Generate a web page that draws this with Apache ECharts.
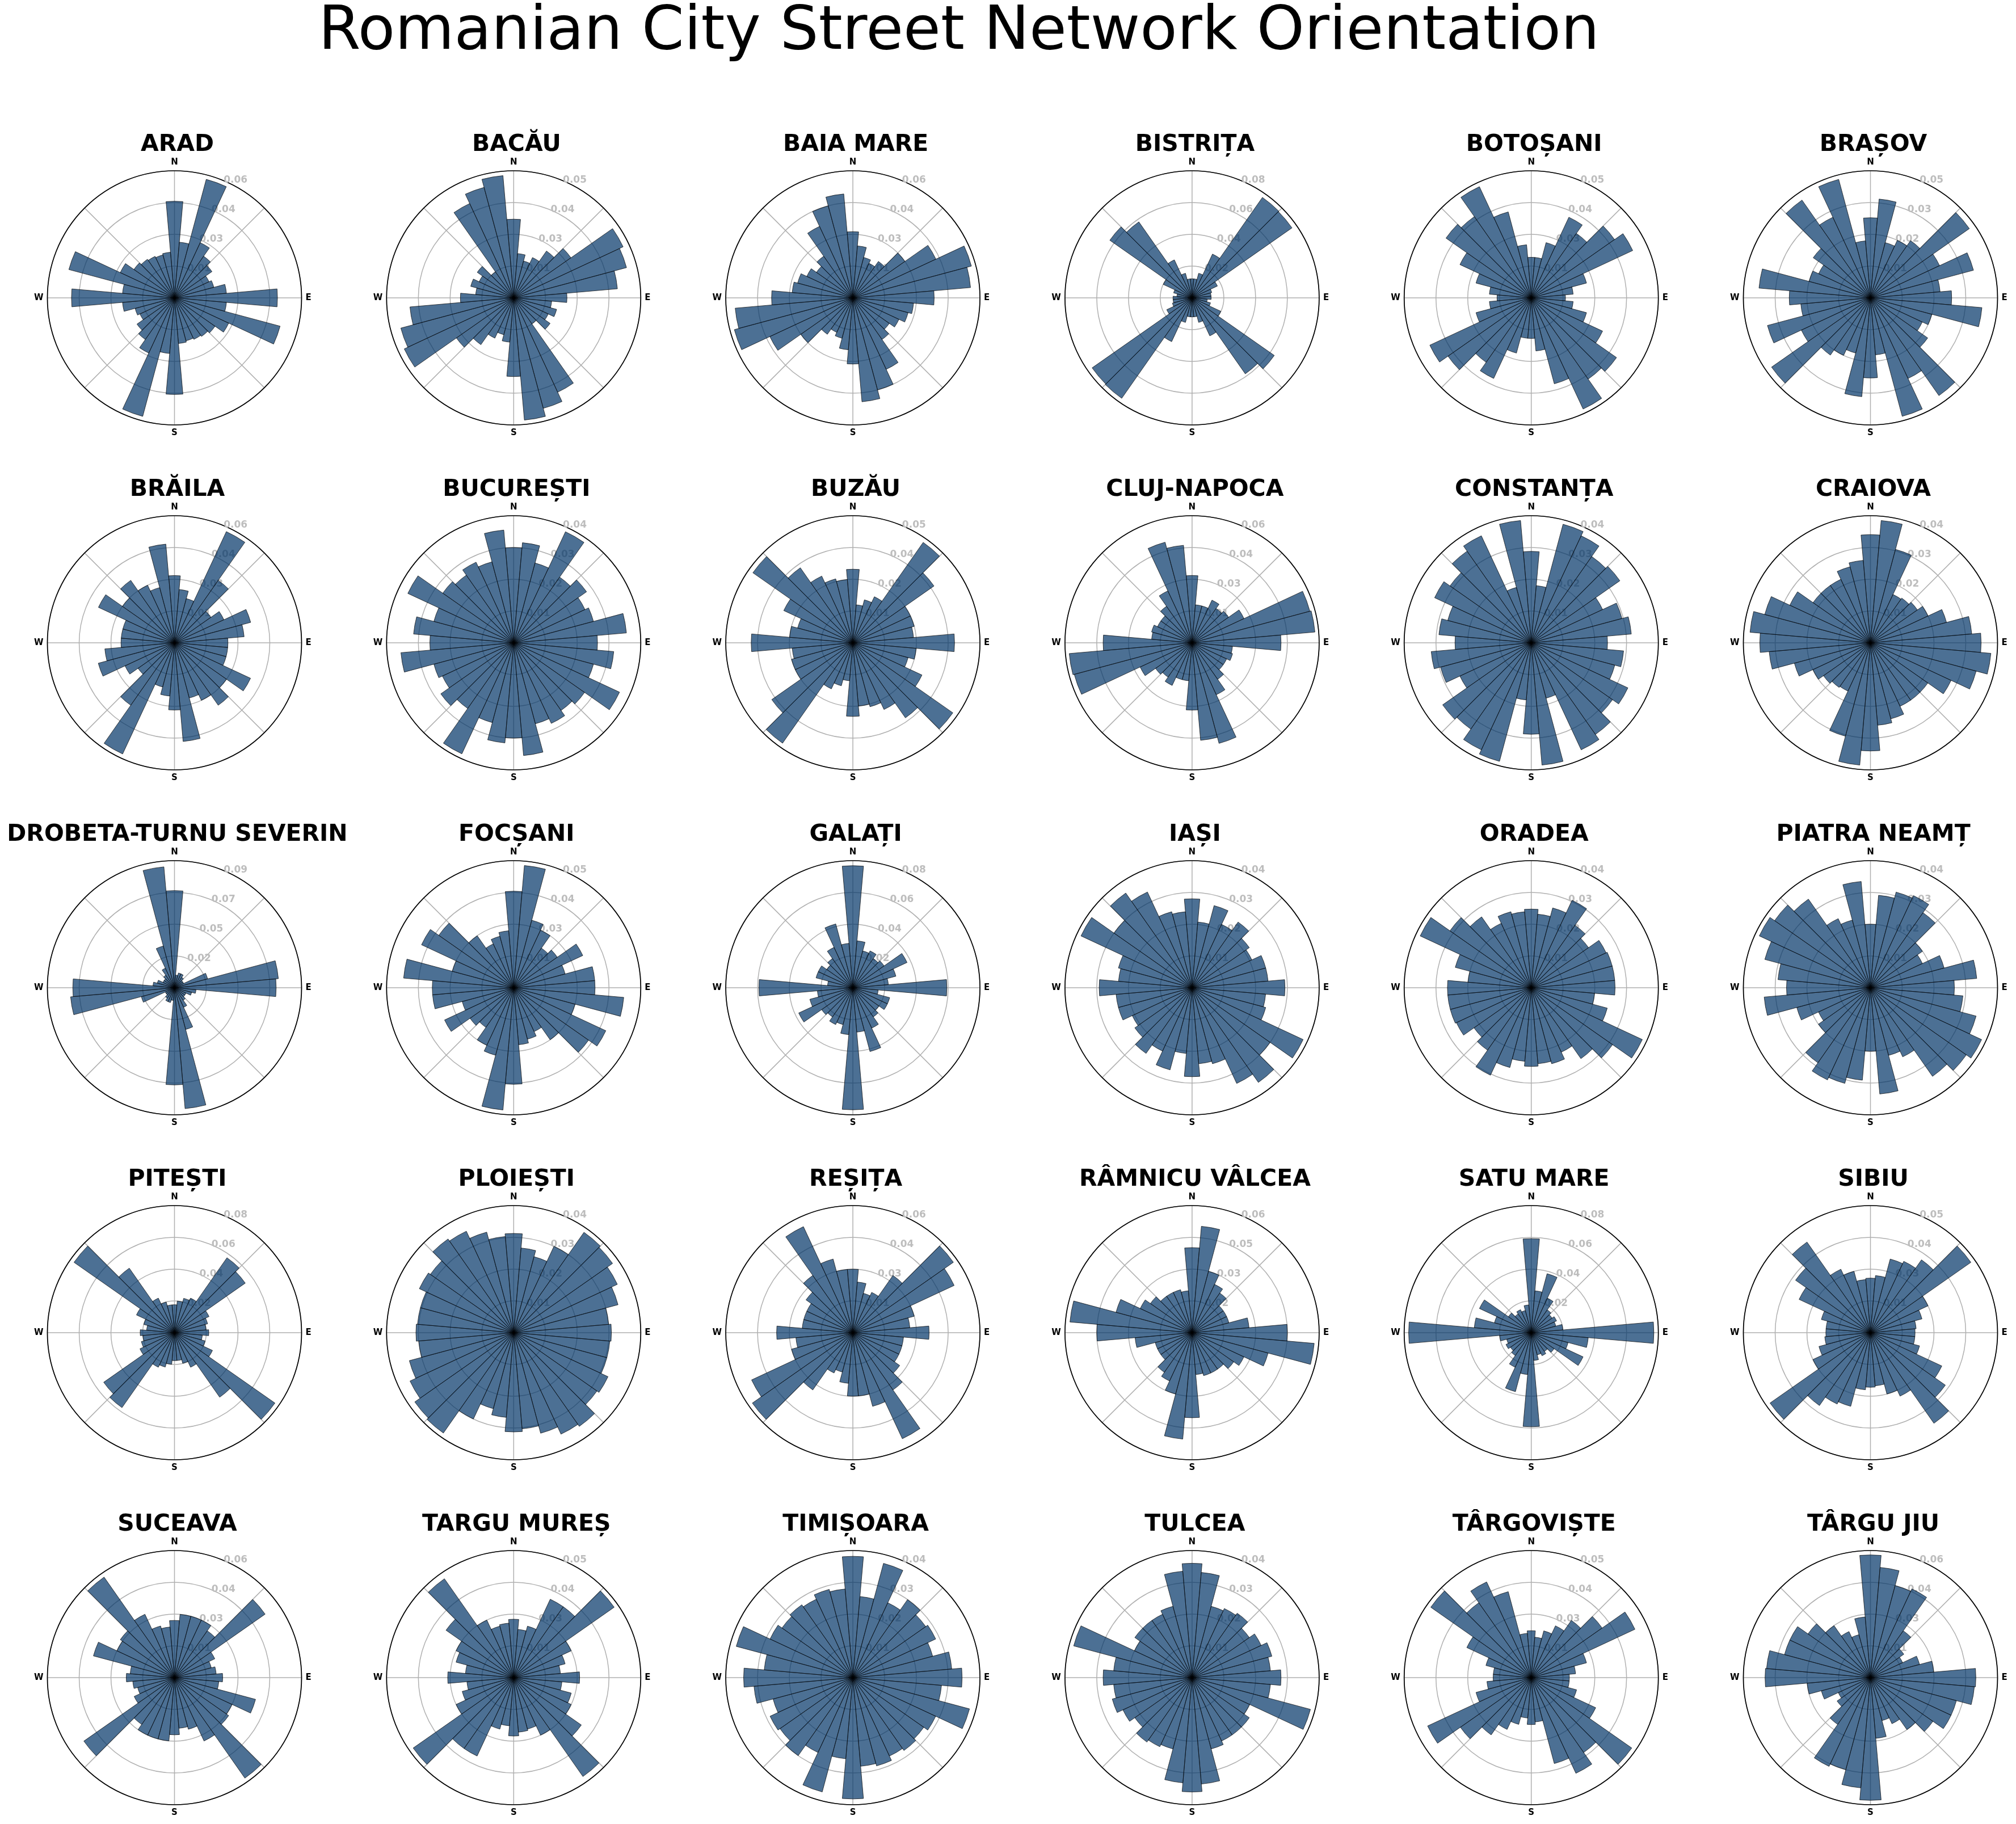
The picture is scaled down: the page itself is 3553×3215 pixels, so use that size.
<!DOCTYPE html>
<html><head><meta charset="utf-8">
<script src="https://cdn.jsdelivr.net/npm/echarts/dist/echarts.min.js"></script>
<style>html,body{margin:0;padding:0;background:#fff}#c{width:3553px;height:3215px}</style>
</head><body><div id="c"></div>
<script>
const BEARINGS = ['0','10','20','30','40','50','60','70','80','90','100','110','120','130','140','150','160','170',
  '180','190','200','210','220','230','240','250','260','270','280','290','300','310','320','330','340','350'];
const COMPASS = {0:'N', 90:'E', 180:'S', 270:'W'};
const CITIES = ['ARAD','BACĂU','BAIA MARE','BISTRIȚA','BOTOȘANI','BRAȘOV',
  'BRĂILA','BUCUREȘTI','BUZĂU','CLUJ-NAPOCA','CONSTANȚA','CRAIOVA',
  'DROBETA-TURNU SEVERIN','FOCȘANI','GALAȚI','IAȘI','ORADEA','PIATRA NEAMȚ',
  'PITEȘTI','PLOIEȘTI','REȘIȚA','RÂMNICU VÂLCEA','SATU MARE','SIBIU',
  'SUCEAVA','TARGU MUREȘ','TIMIȘOARA','TULCEA','TÂRGOVIȘTE','TÂRGU JIU'];
const RMAX = [0.058,0.052,0.058,0.080,0.052,0.046,
  0.058,0.042,0.048,0.057,0.041,0.041,
  0.093,0.052,0.081,0.042,0.042,0.043,
  0.080,0.042,0.058,0.062,0.082,0.051,
  0.058,0.052,0.042,0.042,0.052,0.058];
const TICK_LABELS = [
  ['0.01','0.03','0.04','0.06'],['0.01','0.03','0.04','0.05'],['0.01','0.03','0.04','0.06'],['0.02','0.04','0.06','0.08'],['0.01','0.03','0.04','0.05'],['0.01','0.02','0.03','0.05'],
  ['0.01','0.03','0.04','0.06'],['0.01','0.02','0.03','0.04'],['0.01','0.02','0.04','0.05'],['0.01','0.03','0.04','0.06'],['0.01','0.02','0.03','0.04'],['0.01','0.02','0.03','0.04'],
  ['0.02','0.05','0.07','0.09'],['0.01','0.03','0.04','0.05'],['0.02','0.04','0.06','0.08'],['0.01','0.02','0.03','0.04'],['0.01','0.02','0.03','0.04'],['0.01','0.02','0.03','0.04'],
  ['0.02','0.04','0.06','0.08'],['0.01','0.02','0.03','0.04'],['0.01','0.03','0.04','0.06'],['0.02','0.03','0.05','0.06'],['0.02','0.04','0.06','0.08'],['0.01','0.03','0.04','0.05'],
  ['0.01','0.03','0.04','0.06'],['0.01','0.03','0.04','0.05'],['0.01','0.02','0.03','0.04'],['0.01','0.02','0.03','0.04'],['0.01','0.03','0.04','0.05'],['0.01','0.03','0.04','0.06']];

const V_ARAD = [0.0441,0.0255,0.0560,0.0278,0.0232,0.0209,0.0174,0.0186,0.0238,0.0470,0.0238,0.0499,0.0273,0.0226,0.0215,0.0209,0.0203,0.0209,
  0.0441,0.0255,0.0560,0.0278,0.0232,0.0209,0.0174,0.0186,0.0238,0.0470,0.0238,0.0499,0.0273,0.0226,0.0215,0.0209,0.0203,0.0209];
const V_BACAU = [0.0322,0.0182,0.0156,0.0182,0.0234,0.0286,0.0494,0.0478,0.0426,0.0218,0.0156,0.0182,0.0156,0.0182,0.0130,0.0426,0.0468,0.0502,
  0.0322,0.0182,0.0156,0.0182,0.0234,0.0286,0.0494,0.0478,0.0426,0.0218,0.0156,0.0182,0.0156,0.0182,0.0130,0.0426,0.0468,0.0502];
const V_BAIA_MARE = [0.0302,0.0238,0.0191,0.0174,0.0203,0.0290,0.0418,0.0560,0.0539,0.0371,0.0278,0.0261,0.0232,0.0203,0.0232,0.0360,0.0435,0.0476,
  0.0302,0.0238,0.0191,0.0174,0.0203,0.0290,0.0418,0.0560,0.0539,0.0371,0.0278,0.0261,0.0232,0.0203,0.0232,0.0360,0.0435,0.0476];
const V_BISTRITA = [0.0120,0.0120,0.0160,0.0304,0.0772,0.0768,0.0176,0.0128,0.0120,0.0120,0.0096,0.0120,0.0200,0.0632,0.0584,0.0264,0.0160,0.0120,
  0.0120,0.0120,0.0160,0.0304,0.0772,0.0768,0.0176,0.0128,0.0120,0.0120,0.0096,0.0120,0.0200,0.0632,0.0584,0.0264,0.0160,0.0120];
const V_BOTOSANI = [0.0166,0.0166,0.0234,0.0364,0.0322,0.0416,0.0458,0.0234,0.0172,0.0140,0.0172,0.0234,0.0322,0.0426,0.0406,0.0502,0.0364,0.0218,
  0.0166,0.0166,0.0234,0.0364,0.0322,0.0416,0.0458,0.0234,0.0172,0.0140,0.0172,0.0234,0.0322,0.0426,0.0406,0.0502,0.0364,0.0218];
const V_BRASOV = [0.0290,0.0359,0.0207,0.0230,0.0253,0.0437,0.0276,0.0386,0.0253,0.0294,0.0405,0.0230,0.0207,0.0253,0.0432,0.0322,0.0444,0.0207,
  0.0290,0.0359,0.0207,0.0230,0.0253,0.0437,0.0276,0.0386,0.0253,0.0294,0.0405,0.0230,0.0207,0.0253,0.0432,0.0322,0.0444,0.0207];
const V_BRAILA = [0.0307,0.0244,0.0209,0.0560,0.0348,0.0203,0.0249,0.0360,0.0319,0.0244,0.0244,0.0244,0.0383,0.0290,0.0348,0.0290,0.0261,0.0452,
  0.0307,0.0244,0.0209,0.0560,0.0348,0.0203,0.0249,0.0360,0.0319,0.0244,0.0244,0.0244,0.0383,0.0290,0.0348,0.0290,0.0261,0.0452];
const V_BUCURESTI = [0.0315,0.0332,0.0273,0.0405,0.0265,0.0294,0.0260,0.0273,0.0374,0.0277,0.0332,0.0273,0.0386,0.0286,0.0273,0.0294,0.0277,0.0374,
  0.0315,0.0332,0.0273,0.0405,0.0265,0.0294,0.0260,0.0273,0.0374,0.0277,0.0332,0.0273,0.0386,0.0286,0.0273,0.0294,0.0277,0.0374];
const V_BUZAU = [0.0278,0.0144,0.0168,0.0192,0.0463,0.0374,0.0240,0.0240,0.0230,0.0384,0.0240,0.0216,0.0288,0.0461,0.0346,0.0278,0.0250,0.0240,
  0.0278,0.0144,0.0168,0.0192,0.0463,0.0374,0.0240,0.0240,0.0230,0.0384,0.0240,0.0216,0.0288,0.0461,0.0346,0.0278,0.0250,0.0240];
const V_CLUJ = [0.0302,0.0171,0.0171,0.0211,0.0188,0.0200,0.0257,0.0547,0.0553,0.0399,0.0182,0.0188,0.0171,0.0171,0.0200,0.0257,0.0467,0.0439,
  0.0302,0.0171,0.0171,0.0211,0.0188,0.0200,0.0257,0.0547,0.0553,0.0399,0.0182,0.0188,0.0171,0.0171,0.0200,0.0257,0.0467,0.0439];
const V_CONSTANTA = [0.0295,0.0185,0.0396,0.0381,0.0340,0.0349,0.0254,0.0303,0.0324,0.0246,0.0299,0.0279,0.0344,0.0320,0.0361,0.0381,0.0185,0.0396,
  0.0295,0.0185,0.0396,0.0381,0.0340,0.0349,0.0254,0.0303,0.0324,0.0246,0.0299,0.0279,0.0344,0.0320,0.0361,0.0381,0.0185,0.0396];
const V_CRAIOVA = [0.0349,0.0396,0.0312,0.0172,0.0176,0.0185,0.0205,0.0254,0.0328,0.0357,0.0390,0.0353,0.0287,0.0226,0.0226,0.0226,0.0254,0.0267,
  0.0349,0.0396,0.0312,0.0172,0.0176,0.0185,0.0205,0.0254,0.0328,0.0357,0.0390,0.0353,0.0287,0.0226,0.0226,0.0226,0.0254,0.0267];
const V_DROBETA = [0.0711,0.0093,0.0112,0.0112,0.0093,0.0074,0.0074,0.0251,0.0763,0.0744,0.0158,0.0130,0.0093,0.0093,0.0112,0.0158,0.0316,0.0888,
  0.0711,0.0093,0.0112,0.0112,0.0093,0.0074,0.0074,0.0251,0.0763,0.0744,0.0158,0.0130,0.0093,0.0093,0.0112,0.0158,0.0316,0.0888];
const V_FOCSANI = [0.0395,0.0502,0.0286,0.0260,0.0198,0.0218,0.0312,0.0218,0.0333,0.0333,0.0452,0.0260,0.0416,0.0374,0.0260,0.0198,0.0218,0.0234,
  0.0395,0.0502,0.0286,0.0260,0.0198,0.0218,0.0312,0.0218,0.0333,0.0333,0.0452,0.0260,0.0416,0.0374,0.0260,0.0198,0.0218,0.0234];
const V_GALATI = [0.0778,0.0300,0.0243,0.0259,0.0227,0.0243,0.0381,0.0284,0.0227,0.0599,0.0162,0.0243,0.0243,0.0203,0.0227,0.0284,0.0421,0.0284,
  0.0778,0.0300,0.0243,0.0259,0.0227,0.0243,0.0381,0.0284,0.0227,0.0599,0.0162,0.0243,0.0243,0.0203,0.0227,0.0284,0.0421,0.0284];
const V_IASI = [0.0294,0.0218,0.0281,0.0231,0.0265,0.0231,0.0218,0.0252,0.0252,0.0307,0.0244,0.0252,0.0405,0.0315,0.0382,0.0349,0.0260,0.0252,
  0.0294,0.0218,0.0281,0.0231,0.0265,0.0231,0.0218,0.0252,0.0252,0.0307,0.0244,0.0252,0.0405,0.0315,0.0382,0.0349,0.0260,0.0252];
const V_ORADEA = [0.0260,0.0244,0.0273,0.0319,0.0252,0.0231,0.0273,0.0277,0.0277,0.0277,0.0210,0.0260,0.0405,0.0328,0.0286,0.0235,0.0260,0.0252,
  0.0260,0.0244,0.0273,0.0319,0.0252,0.0231,0.0273,0.0277,0.0277,0.0277,0.0210,0.0260,0.0405,0.0328,0.0286,0.0235,0.0260,0.0252];
const V_PIATRA_NEAMT = [0.0215,0.0314,0.0335,0.0344,0.0310,0.0215,0.0194,0.0258,0.0361,0.0284,0.0314,0.0370,0.0415,0.0396,0.0366,0.0258,0.0237,0.0361,
  0.0215,0.0314,0.0335,0.0344,0.0310,0.0215,0.0194,0.0258,0.0361,0.0284,0.0314,0.0370,0.0415,0.0396,0.0366,0.0258,0.0237,0.0361];
const V_PITESTI = [0.0176,0.0200,0.0224,0.0240,0.0576,0.0544,0.0240,0.0216,0.0200,0.0216,0.0176,0.0200,0.0264,0.0772,0.0496,0.0240,0.0200,0.0176,
  0.0176,0.0200,0.0224,0.0240,0.0576,0.0544,0.0240,0.0216,0.0200,0.0216,0.0176,0.0200,0.0264,0.0772,0.0496,0.0240,0.0200,0.0176];
const V_PLOIESTI = [0.0328,0.0281,0.0260,0.0315,0.0405,0.0399,0.0378,0.0357,0.0315,0.0323,0.0319,0.0319,0.0344,0.0336,0.0378,0.0370,0.0344,0.0319,
  0.0328,0.0281,0.0260,0.0315,0.0405,0.0399,0.0378,0.0357,0.0315,0.0323,0.0319,0.0319,0.0344,0.0336,0.0378,0.0370,0.0344,0.0319];
const V_RESITA = [0.0290,0.0232,0.0186,0.0203,0.0319,0.0560,0.0510,0.0290,0.0261,0.0348,0.0232,0.0232,0.0232,0.0261,0.0319,0.0534,0.0348,0.0290,
  0.0290,0.0232,0.0186,0.0203,0.0319,0.0560,0.0510,0.0290,0.0261,0.0348,0.0232,0.0232,0.0232,0.0261,0.0319,0.0534,0.0348,0.0290];
const V_RAMNICU_VALCEA = [0.0415,0.0521,0.0310,0.0260,0.0236,0.0186,0.0186,0.0186,0.0279,0.0465,0.0598,0.0384,0.0279,0.0248,0.0217,0.0217,0.0217,0.0205,
  0.0415,0.0521,0.0310,0.0260,0.0236,0.0186,0.0186,0.0186,0.0279,0.0465,0.0598,0.0384,0.0279,0.0248,0.0217,0.0217,0.0217,0.0205];
const V_SATU_MARE = [0.0607,0.0271,0.0394,0.0246,0.0180,0.0164,0.0180,0.0164,0.0205,0.0791,0.0369,0.0246,0.0369,0.0180,0.0148,0.0164,0.0148,0.0180,
  0.0607,0.0271,0.0394,0.0246,0.0180,0.0164,0.0180,0.0164,0.0205,0.0791,0.0369,0.0246,0.0369,0.0180,0.0148,0.0164,0.0148,0.0180];
const V_SIBIU = [0.0219,0.0230,0.0306,0.0316,0.0357,0.0492,0.0255,0.0214,0.0184,0.0179,0.0179,0.0204,0.0316,0.0367,0.0444,0.0281,0.0255,0.0214,
  0.0219,0.0230,0.0306,0.0316,0.0357,0.0492,0.0255,0.0214,0.0184,0.0179,0.0179,0.0204,0.0316,0.0367,0.0444,0.0281,0.0255,0.0214];
const V_SUCEAVA = [0.0261,0.0290,0.0290,0.0290,0.0261,0.0505,0.0203,0.0174,0.0191,0.0220,0.0203,0.0383,0.0290,0.0302,0.0560,0.0319,0.0244,0.0232,
  0.0261,0.0290,0.0290,0.0290,0.0261,0.0505,0.0203,0.0174,0.0191,0.0220,0.0203,0.0383,0.0290,0.0302,0.0560,0.0319,0.0244,0.0232];
const V_TARGU_MURES = [0.0239,0.0198,0.0218,0.0354,0.0354,0.0502,0.0260,0.0218,0.0192,0.0270,0.0198,0.0244,0.0260,0.0338,0.0494,0.0260,0.0218,0.0224,
  0.0239,0.0198,0.0218,0.0354,0.0354,0.0502,0.0260,0.0218,0.0192,0.0270,0.0198,0.0244,0.0260,0.0338,0.0494,0.0260,0.0218,0.0224];
const V_TIMISOARA = [0.0401,0.0269,0.0391,0.0273,0.0315,0.0294,0.0302,0.0273,0.0328,0.0361,0.0294,0.0399,0.0302,0.0286,0.0294,0.0286,0.0302,0.0294,
  0.0401,0.0269,0.0391,0.0273,0.0315,0.0294,0.0302,0.0273,0.0328,0.0361,0.0294,0.0399,0.0302,0.0286,0.0294,0.0286,0.0302,0.0294];
const V_TULCEA = [0.0378,0.0349,0.0244,0.0252,0.0260,0.0231,0.0252,0.0273,0.0260,0.0294,0.0260,0.0405,0.0210,0.0231,0.0231,0.0231,0.0244,0.0353,
  0.0378,0.0349,0.0244,0.0252,0.0260,0.0231,0.0252,0.0273,0.0260,0.0294,0.0260,0.0405,0.0210,0.0231,0.0231,0.0231,0.0244,0.0353];
const V_TARGOVISTE = [0.0192,0.0166,0.0198,0.0234,0.0286,0.0354,0.0468,0.0234,0.0182,0.0156,0.0156,0.0192,0.0291,0.0502,0.0374,0.0432,0.0364,0.0182,
  0.0192,0.0166,0.0198,0.0234,0.0286,0.0354,0.0468,0.0234,0.0182,0.0156,0.0156,0.0192,0.0291,0.0502,0.0374,0.0432,0.0364,0.0182];
const V_TARGU_JIU = [0.0560,0.0505,0.0435,0.0447,0.0261,0.0186,0.0162,0.0232,0.0290,0.0481,0.0476,0.0406,0.0406,0.0348,0.0290,0.0232,0.0203,0.0278,
  0.0560,0.0505,0.0435,0.0447,0.0261,0.0186,0.0162,0.0232,0.0290,0.0481,0.0476,0.0406,0.0406,0.0348,0.0290,0.0232,0.0203,0.0278];

const VALUES = [V_ARAD,V_BACAU,V_BAIA_MARE,V_BISTRITA,V_BOTOSANI,V_BRASOV,
  V_BRAILA,V_BUCURESTI,V_BUZAU,V_CLUJ,V_CONSTANTA,V_CRAIOVA,
  V_DROBETA,V_FOCSANI,V_GALATI,V_IASI,V_ORADEA,V_PIATRA_NEAMT,
  V_PITESTI,V_PLOIESTI,V_RESITA,V_RAMNICU_VALCEA,V_SATU_MARE,V_SIBIU,
  V_SUCEAVA,V_TARGU_MURES,V_TIMISOARA,V_TULCEA,V_TARGOVISTE,V_TARGU_JIU];

const FONT = 'DejaVu Sans';
const X0 = 307.5, DX = 597.8, Y0 = 525, DY = 608, R = 224;

const chart = echarts.init(document.getElementById('c'), null, {renderer: 'canvas', width: 3553, height: 3215});
const option = {backgroundColor: '#ffffff', animation: false, title: [], polar: [], angleAxis: [], radiusAxis: [], series: []};
option.title.push({text: 'Romanian City Street Network Orientation', left: 1685, top: 0, textAlign: 'center',
  textStyle: {fontFamily: FONT, fontSize: 107, fontWeight: 'normal', color: '#000'}});

CITIES.forEach((name, i) => {
  const cx = X0 + DX * (i % 6), cy = Y0 + DY * Math.floor(i / 6);
  const rmax = RMAX[i], labels = TICK_LABELS[i];
  option.title.push({text: name, left: cx, top: cy - 295, textAlign: 'center',
    textStyle: {fontFamily: FONT, fontSize: 41, fontWeight: 'bold', color: '#000'}});
  const p = option.polar.length;
  for (let k = 0; k < 3; k++) option.polar.push({center: [cx, cy], radius: R});
  // bars + radial rings
  option.angleAxis.push({polarIndex: p, type: 'category', data: BEARINGS, startAngle: 95, clockwise: true, boundaryGap: true,
    axisLine: {show: false}, axisTick: {show: false}, axisLabel: {show: false}, splitLine: {show: false}, z: 0});
  option.radiusAxis.push({polarIndex: p, type: 'value', min: 0, max: rmax, interval: rmax / 4,
    axisLine: {show: false}, axisTick: {show: false}, axisLabel: {show: false},
    splitLine: {show: true, lineStyle: {color: '#b0b0b0', width: 1.5}}, z: 0});
  // angular grid, compass labels, outer circle
  option.angleAxis.push({polarIndex: p + 1, type: 'value', min: 0, max: 360, interval: 45, startAngle: 90, clockwise: true,
    axisLine: {show: true, lineStyle: {color: '#000', width: 1.7}}, axisTick: {show: false},
    axisLabel: {show: true, margin: 7, formatter: v => COMPASS[v] || '', fontFamily: FONT, fontSize: 15, fontWeight: 'bold', color: '#000'},
    splitLine: {show: true, lineStyle: {color: '#b0b0b0', width: 1.5}}, z: 1});
  option.radiusAxis.push({polarIndex: p + 1, type: 'value', min: 0, max: 1, show: false});
  // radial tick labels at 22.5 deg
  option.angleAxis.push({polarIndex: p + 2, type: 'value', min: 0, max: 360, startAngle: 67.5, clockwise: true, show: false});
  option.radiusAxis.push({polarIndex: p + 2, type: 'value', min: 0, max: rmax, interval: rmax / 4,
    axisLine: {show: false}, axisTick: {show: false}, splitLine: {show: false},
    axisLabel: {show: true, margin: 0, align: 'center', verticalAlign: 'middle', padding: [0, 0, 12, 44],
      formatter: v => { const k = Math.round(v / (rmax / 4)); return k > 0 ? labels[k - 1] : ''; },
      fontFamily: FONT, fontSize: 17, fontWeight: 'bold', color: '#bdbdbd'}, z: 1});
  option.series.push({type: 'bar', coordinateSystem: 'polar', polarIndex: p, data: VALUES[i], barCategoryGap: '0%',
    silent: true, z: 2, itemStyle: {color: '#003366', opacity: 0.7, borderColor: '#000', borderWidth: 1}});
});
chart.setOption(option);
</script></body></html>
